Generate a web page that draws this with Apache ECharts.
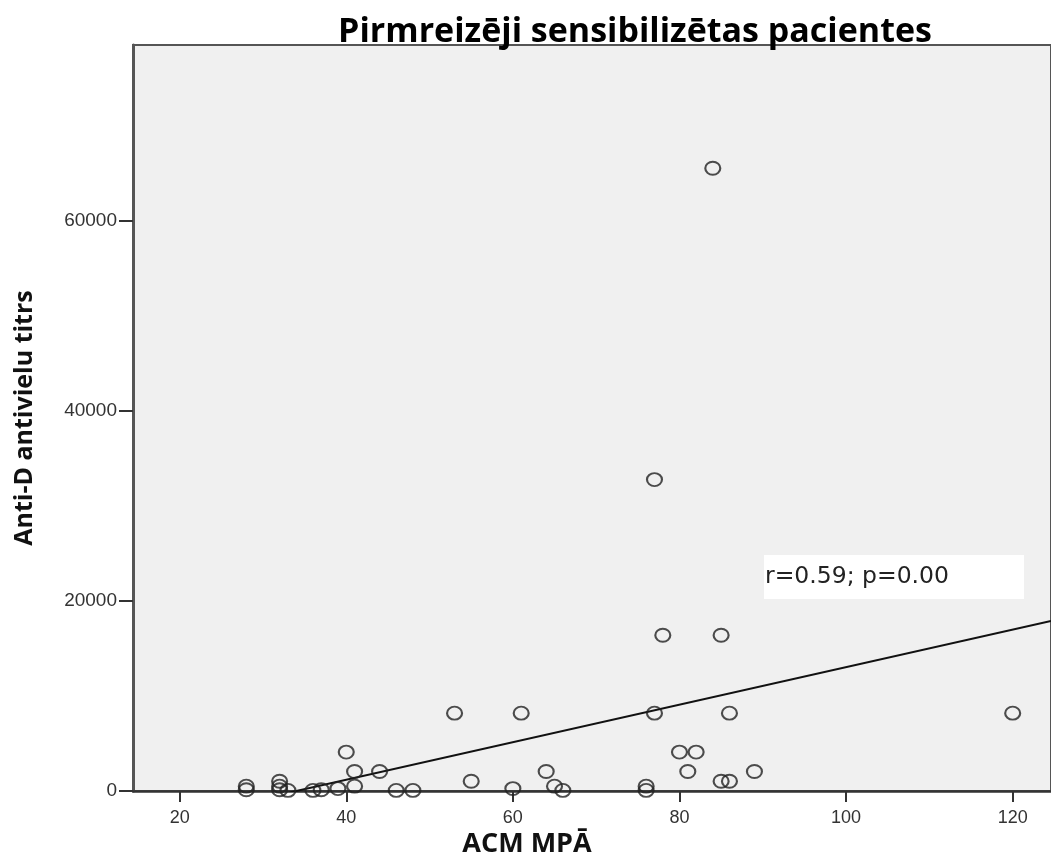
<!DOCTYPE html>
<html>
<head>
<meta charset="utf-8">
<script src="https://cdn.jsdelivr.net/npm/echarts@6/dist/echarts.min.js"></script>
<style>
  html, body { margin: 0; padding: 0; background: #fff; }
  #chart { width: 1051px; height: 858px; }
</style>
</head>
<body>
<div id="chart"></div>
<script>
// ACM MPĀ values and matching anti-D titres
var acm = [28, 28, 32, 32, 32, 33, 36, 37, 39, 40, 41, 41, 44, 46, 48,
           53, 55, 60, 61, 64, 65, 66, 76, 76, 77, 77, 78, 80, 81, 82,
           84, 85, 85, 86, 86, 89, 120];
var titrs = [512, 128, 1024, 512, 128, 64, 64, 128, 256, 4096, 2048, 512, 2048, 64, 64,
             8192, 1024, 256, 8192, 2048, 512, 64, 512, 64, 32768, 8192, 16384, 4096, 2048, 4096,
             65536, 16384, 1024, 8192, 1024, 2048, 8192];

// linear fit line (titrs = a + b * acm)
var fitIntercept = -6718;
var fitSlope = 197.6;

var xTicks = [20, 40, 60, 80, 100, 120];
var yTicks = [0, 20000, 40000, 60000];
var xMin = 14.4, xMax = 124.6;
var yMin = 0, yMax = 78500;

var points = acm.map(function (v, i) { return [v, titrs[i]]; });
var fitLine = [xMin, xMax].map(function (v) { return [v, fitIntercept + fitSlope * v]; });

var chart = echarts.init(document.getElementById('chart'));

var option = {
    backgroundColor: '#fff',
    animation: false,
    title: [{
        text: 'Pirmreizēji sensibilizētas pacientes',
        left: 630,
        top: 10,
        textAlign: 'center',
        textStyle: {
            fontFamily: 'Open Sans',
            fontWeight: 'bold',
            fontSize: 34,
            color: '#000'
        }
    }, {
        text: 'ACM MPĀ',
        left: 522,
        top: 826,
        textAlign: 'center',
        textStyle: {
            fontFamily: 'Open Sans',
            fontWeight: 'bold',
            fontSize: 27,
            color: '#111'
        }
    }],
    grid: {
        left: 133,
        top: 45,
        right: 0,
        bottom: 67,
        show: true,
        backgroundColor: '#f0f0f0',
        borderColor: '#555',
        borderWidth: 2
    },
    xAxis: {
        type: 'value',
        min: xMin,
        max: xMax,
        splitLine: { show: false },
        axisLine: {
            onZero: false,
            lineStyle: { color: '#333', width: 2.5 }
        },
        axisTick: {
            customValues: xTicks,
            length: 11,
            lineStyle: { color: '#333', width: 2 }
        },
        axisLabel: {
            customValues: xTicks,
            color: '#333',
            fontFamily: 'Liberation Sans',
            fontSize: 18,
            margin: 18,
            formatter: function (v) { return String(v); }
        }
    },
    yAxis: {
        type: 'value',
        min: yMin,
        max: yMax,
        name: 'Anti-D antivielu titrs',
        nameLocation: 'middle',
        nameGap: 96,
        nameTextStyle: {
            fontFamily: 'Open Sans',
            fontWeight: 'bold',
            fontSize: 25,
            color: '#111'
        },
        splitLine: { show: false },
        axisLine: {
            show: true,
            lineStyle: { color: '#555', width: 3 }
        },
        axisTick: {
            show: true,
            customValues: yTicks,
            length: 14,
            lineStyle: { color: '#333', width: 2 }
        },
        axisLabel: {
            customValues: yTicks,
            color: '#333',
            fontFamily: 'Liberation Sans',
            fontSize: 19,
            margin: 16,
            formatter: function (v) { return String(v); }
        }
    },
    graphic: [{
        type: 'group',
        left: 764,
        top: 555,
        children: [{
            type: 'rect',
            shape: { x: 0, y: 0, width: 260, height: 44 },
            style: { fill: '#fff' }
        }, {
            type: 'text',
            x: 1,
            y: 22,
            style: {
                text: 'r=0.59; p=0.00',
                fill: '#222',
                fontFamily: 'DejaVu Sans',
                fontSize: 23.5,
                verticalAlign: 'middle'
            }
        }]
    }],
    series: [{
        type: 'line',
        data: fitLine,
        symbol: 'none',
        clip: true,
        lineStyle: { color: '#111', width: 2 },
        z: 3
    }, {
        type: 'scatter',
        data: points,
        symbol: 'circle',
        symbolSize: [15, 13],
        clip: false,
        itemStyle: {
            color: 'rgba(0,0,0,0)',
            borderColor: '#222',
            borderWidth: 2
        },
        z: 4
    }]
};

chart.setOption(option);
</script>
</body>
</html>
